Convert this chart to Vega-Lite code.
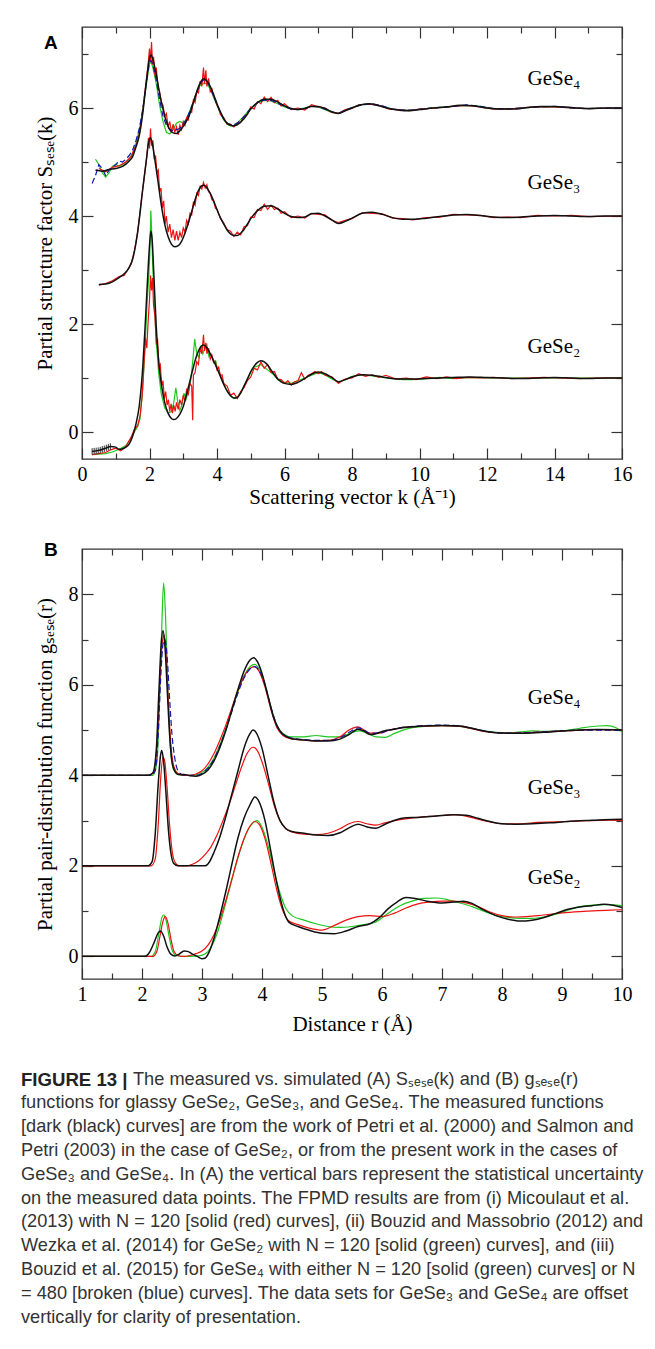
{
"$schema":"https://vega.github.io/schema/vega-lite/v6.json",
"background":"white",
"padding":{"left":21,"top":25,"right":5,"bottom":5},
"bounds":"flush",
"spacing":90,
"title":{"text":"FIGURE 13 |","subtitle":["functions for glassy GeSe₂, GeSe₃, and GeSe₄. The measured functions","[dark (black) curves] are from the work of Petri et al. (2000) and Salmon and","Petri (2003) in the case of GeSe₂, or from the present work in the cases of","GeSe₃ and GeSe₄. In (A) the vertical bars represent the statistical uncertainty","on the measured data points. The FPMD results are from (i) Micoulaut et al.","(2013) with N = 120 [solid (red) curves], (ii) Bouzid and Massobrio (2012) and","Wezka et al. (2014) for GeSe₂ with N = 120 [solid (green) curves], and (iii)","Bouzid et al. (2015) for GeSe₄ with either N = 120 [solid (green) curves] or N","= 480 [broken (blue) curves]. The data sets for GeSe₃ and GeSe₄ are offset","vertically for clarity of presentation."],
"orient":"bottom","anchor":"start","frame":"group","dx":-61,"offset":-18.2,"font":"Liberation Sans","fontSize":18.6,"fontWeight":"bold","color":"#222","subtitleFont":"Liberation Sans","subtitleFontSize":18.2,"subtitleColor":"#333","subtitleLineHeight":23.8,"subtitlePadding":5.2},
"datasets":{
"a4k":[{"k":0.4,"S":4.85},{"k":0.6,"S":4.83},{"k":0.8,"S":4.86},{"k":1,"S":4.88},{"k":1.2,"S":4.92},{"k":1.4,"S":5.02},{"k":1.5,"S":5.1},{"k":1.6,"S":5.28},{"k":1.7,"S":5.5},{"k":1.8,"S":5.9},{"k":1.9,"S":6.45},{"k":2,"S":6.92},{"k":2.05,"S":6.98},{"k":2.1,"S":6.9},{"k":2.2,"S":6.62},{"k":2.3,"S":6.27},{"k":2.4,"S":5.98},{"k":2.5,"S":5.75},{"k":2.6,"S":5.6},{"k":2.7,"S":5.54},{"k":2.8,"S":5.53},{"k":2.9,"S":5.58},{"k":3,"S":5.66},{"k":3.1,"S":5.76},{"k":3.2,"S":5.9},{"k":3.3,"S":6.1},{"k":3.4,"S":6.3},{"k":3.5,"S":6.46},{"k":3.6,"S":6.54},{"k":3.7,"S":6.5},{"k":3.8,"S":6.4},{"k":3.9,"S":6.25},{"k":4,"S":6.08},{"k":4.1,"S":5.93},{"k":4.2,"S":5.8},{"k":4.3,"S":5.72},{"k":4.4,"S":5.68},{"k":4.5,"S":5.67},{"k":4.6,"S":5.69},{"k":4.8,"S":5.8},{"k":5,"S":5.98},{"k":5.2,"S":6.1},{"k":5.4,"S":6.16},{"k":5.6,"S":6.16},{"k":5.8,"S":6.11},{"k":6,"S":6.04},{"k":6.2,"S":5.99},{"k":6.4,"S":5.97},{"k":6.6,"S":5.99},{"k":6.8,"S":6.03},{"k":7,"S":6.03},{"k":7.2,"S":5.99},{"k":7.4,"S":5.93},{"k":7.6,"S":5.9},{"k":7.8,"S":5.95},{"k":8,"S":6},{"k":8.2,"S":6.05},{"k":8.5,"S":6.08},{"k":8.8,"S":6.04},{"k":9.1,"S":5.99},{"k":9.4,"S":5.96},{"k":9.7,"S":5.95},{"k":10,"S":5.97},{"k":10.4,"S":6},{"k":10.8,"S":6.02},{"k":11.2,"S":6.05},{"k":11.6,"S":6.04},{"k":12,"S":6},{"k":12.4,"S":5.98},{"k":12.8,"S":5.98},{"k":13.2,"S":6.01},{"k":13.6,"S":6.03},{"k":14,"S":6.03},{"k":14.5,"S":6.01},{"k":15,"S":5.99},{"k":15.5,"S":6},{"k":16,"S":6}],
"a4r":[{"k":0.5,"S":4.88},{"k":0.7,"S":4.82},{"k":0.9,"S":4.9},{"k":1.1,"S":4.93},{"k":1.3,"S":5},{"k":1.45,"S":5.1},{"k":1.6,"S":5.3},{"k":1.7,"S":5.52},{"k":1.8,"S":5.95},{"k":1.9,"S":6.5},{"k":1.95,"S":6.75},{"k":2,"S":7.1},{"k":2.03,"S":6.85},{"k":2.06,"S":7.22},{"k":2.09,"S":6.8},{"k":2.12,"S":6.95},{"k":2.16,"S":6.6},{"k":2.2,"S":6.75},{"k":2.25,"S":6.4},{"k":2.3,"S":6.3},{"k":2.35,"S":6.1},{"k":2.4,"S":6.05},{"k":2.45,"S":5.85},{"k":2.5,"S":5.9},{"k":2.55,"S":5.65},{"k":2.6,"S":5.75},{"k":2.65,"S":5.55},{"k":2.7,"S":5.7},{"k":2.75,"S":5.55},{"k":2.8,"S":5.65},{"k":2.85,"S":5.5},{"k":2.9,"S":5.68},{"k":2.95,"S":5.6},{"k":3,"S":5.75},{"k":3.05,"S":5.68},{"k":3.1,"S":5.82},{"k":3.15,"S":5.78},{"k":3.2,"S":5.95},{"k":3.25,"S":5.92},{"k":3.3,"S":6.15},{"k":3.35,"S":6.1},{"k":3.4,"S":6.3},{"k":3.45,"S":6.28},{"k":3.5,"S":6.5},{"k":3.55,"S":6.4},{"k":3.6,"S":6.75},{"k":3.63,"S":6.45},{"k":3.67,"S":6.7},{"k":3.7,"S":6.4},{"k":3.75,"S":6.55},{"k":3.8,"S":6.3},{"k":3.85,"S":6.35},{"k":3.9,"S":6.2},{"k":3.95,"S":6.15},{"k":4,"S":6.05},{"k":4.05,"S":6},{"k":4.1,"S":5.88},{"k":4.2,"S":5.82},{"k":4.3,"S":5.7},{"k":4.4,"S":5.7},{"k":4.5,"S":5.65},{"k":4.6,"S":5.72},{"k":4.7,"S":5.73},{"k":4.8,"S":5.85},{"k":4.9,"S":5.88},{"k":5,"S":6.02},{"k":5.1,"S":5.98},{"k":5.2,"S":6.12},{"k":5.3,"S":6.08},{"k":5.4,"S":6.2},{"k":5.5,"S":6.12},{"k":5.6,"S":6.2},{"k":5.7,"S":6.1},{"k":5.8,"S":6.14},{"k":5.9,"S":6.04},{"k":6,"S":6.08},{"k":6.2,"S":5.97},{"k":6.4,"S":6},{"k":6.6,"S":5.96},{"k":6.8,"S":6.06},{"k":7,"S":6.02},{"k":7.2,"S":6},{"k":7.4,"S":5.92},{"k":7.6,"S":5.9},{"k":7.8,"S":5.97},{"k":8,"S":5.99},{"k":8.2,"S":6.06},{"k":8.5,"S":6.07},{"k":8.8,"S":6.05},{"k":9.1,"S":5.98},{"k":9.4,"S":5.97},{"k":9.7,"S":5.95},{"k":10,"S":5.98},{"k":10.5,"S":6},{"k":11,"S":6.03},{"k":11.4,"S":6.05},{"k":11.8,"S":6.02},{"k":12.2,"S":5.98},{"k":12.8,"S":5.99},{"k":13.4,"S":6.02},{"k":14,"S":6.02},{"k":14.5,"S":6},{"k":15,"S":5.99},{"k":16,"S":6}],
"a4g":[{"k":0.4,"S":5.05},{"k":0.5,"S":4.95},{"k":0.6,"S":4.8},{"k":0.7,"S":4.72},{"k":0.8,"S":4.8},{"k":0.9,"S":4.92},{"k":1,"S":4.96},{"k":1.1,"S":4.92},{"k":1.2,"S":4.95},{"k":1.3,"S":5},{"k":1.4,"S":5.05},{"k":1.5,"S":5.15},{"k":1.6,"S":5.35},{"k":1.7,"S":5.6},{"k":1.8,"S":5.95},{"k":1.9,"S":6.4},{"k":2,"S":6.82},{"k":2.05,"S":6.85},{"k":2.1,"S":6.75},{"k":2.2,"S":6.45},{"k":2.3,"S":6.05},{"k":2.4,"S":5.75},{"k":2.5,"S":5.55},{"k":2.6,"S":5.52},{"k":2.7,"S":5.6},{"k":2.8,"S":5.72},{"k":2.9,"S":5.75},{"k":3,"S":5.72},{"k":3.1,"S":5.8},{"k":3.2,"S":5.95},{"k":3.3,"S":6.12},{"k":3.4,"S":6.3},{"k":3.5,"S":6.42},{"k":3.6,"S":6.45},{"k":3.7,"S":6.45},{"k":3.8,"S":6.35},{"k":3.9,"S":6.2},{"k":4,"S":6.05},{"k":4.1,"S":5.9},{"k":4.2,"S":5.78},{"k":4.3,"S":5.7},{"k":4.4,"S":5.67},{"k":4.5,"S":5.68},{"k":4.6,"S":5.72},{"k":4.8,"S":5.85},{"k":5,"S":6},{"k":5.2,"S":6.1},{"k":5.4,"S":6.14},{"k":5.6,"S":6.13},{"k":5.8,"S":6.08},{"k":6,"S":6.02},{"k":6.2,"S":5.98},{"k":6.4,"S":5.98},{"k":6.6,"S":6},{"k":6.8,"S":6.04},{"k":7,"S":6.02},{"k":7.2,"S":5.97},{"k":7.4,"S":5.92},{"k":7.6,"S":5.9},{"k":7.8,"S":5.96},{"k":8,"S":6.01},{"k":8.3,"S":6.06},{"k":8.6,"S":6.07},{"k":8.9,"S":6.03},{"k":9.2,"S":5.98},{"k":9.5,"S":5.96},{"k":9.8,"S":5.96},{"k":10.2,"S":5.99},{"k":10.6,"S":6.01},{"k":11,"S":6.03},{"k":11.4,"S":6.05},{"k":11.8,"S":6.03},{"k":12.2,"S":5.99},{"k":12.6,"S":5.98},{"k":13,"S":6},{"k":13.5,"S":6.02},{"k":14,"S":6.02},{"k":14.5,"S":6},{"k":15,"S":5.99},{"k":16,"S":6}],
"a4b":[{"k":0.3,"S":4.6},{"k":0.4,"S":4.75},{"k":0.5,"S":4.95},{"k":0.6,"S":4.88},{"k":0.7,"S":4.75},{"k":0.8,"S":4.85},{"k":0.9,"S":4.9},{"k":1,"S":4.95},{"k":1.1,"S":5.02},{"k":1.2,"S":5},{"k":1.3,"S":5.05},{"k":1.4,"S":5.12},{"k":1.5,"S":5.22},{"k":1.6,"S":5.4},{"k":1.7,"S":5.62},{"k":1.8,"S":5.98},{"k":1.9,"S":6.45},{"k":2,"S":6.85},{"k":2.05,"S":6.88},{"k":2.1,"S":6.8},{"k":2.2,"S":6.52},{"k":2.3,"S":6.15},{"k":2.4,"S":5.85},{"k":2.5,"S":5.68},{"k":2.6,"S":5.6},{"k":2.7,"S":5.58},{"k":2.8,"S":5.6},{"k":2.9,"S":5.62},{"k":3,"S":5.7},{"k":3.1,"S":5.8},{"k":3.2,"S":5.95},{"k":3.3,"S":6.12},{"k":3.4,"S":6.3},{"k":3.5,"S":6.45},{"k":3.6,"S":6.52},{"k":3.7,"S":6.5},{"k":3.8,"S":6.38},{"k":3.9,"S":6.22},{"k":4,"S":6.06},{"k":4.1,"S":5.92},{"k":4.2,"S":5.8},{"k":4.3,"S":5.72},{"k":4.4,"S":5.69},{"k":4.5,"S":5.69},{"k":4.6,"S":5.72},{"k":4.8,"S":5.84},{"k":5,"S":5.99},{"k":5.2,"S":6.1},{"k":5.4,"S":6.15},{"k":5.6,"S":6.14},{"k":5.8,"S":6.09},{"k":6,"S":6.03},{"k":6.2,"S":5.98},{"k":6.4,"S":5.97},{"k":6.6,"S":5.99},{"k":6.8,"S":6.03},{"k":7,"S":6.02},{"k":7.2,"S":5.98},{"k":7.4,"S":5.93},{"k":7.6,"S":5.9},{"k":7.8,"S":5.96},{"k":8,"S":6.01},{"k":8.3,"S":6.06},{"k":8.6,"S":6.08},{"k":8.9,"S":6.04},{"k":9.2,"S":5.98},{"k":9.5,"S":5.96},{"k":9.8,"S":5.96},{"k":10.2,"S":5.99},{"k":10.6,"S":6.01},{"k":11,"S":6.03},{"k":11.4,"S":6.06},{"k":11.8,"S":6.03},{"k":12.2,"S":5.99},{"k":12.6,"S":5.98},{"k":13,"S":6},{"k":13.5,"S":6.02},{"k":14,"S":6.03},{"k":14.5,"S":6},{"k":15,"S":5.99},{"k":16,"S":6}],
"a3k":[{"k":0.5,"S":2.73},{"k":0.7,"S":2.74},{"k":0.9,"S":2.78},{"k":1.1,"S":2.86},{"k":1.25,"S":2.93},{"k":1.4,"S":3.05},{"k":1.5,"S":3.2},{"k":1.6,"S":3.5},{"k":1.7,"S":3.95},{"k":1.8,"S":4.5},{"k":1.9,"S":5},{"k":1.97,"S":5.35},{"k":2.02,"S":5.45},{"k":2.08,"S":5.35},{"k":2.15,"S":5.08},{"k":2.25,"S":4.65},{"k":2.35,"S":4.2},{"k":2.45,"S":3.85},{"k":2.55,"S":3.62},{"k":2.65,"S":3.48},{"k":2.75,"S":3.43},{"k":2.85,"S":3.45},{"k":2.95,"S":3.53},{"k":3.05,"S":3.68},{"k":3.15,"S":3.87},{"k":3.25,"S":4.08},{"k":3.35,"S":4.3},{"k":3.45,"S":4.47},{"k":3.55,"S":4.56},{"k":3.62,"S":4.57},{"k":3.7,"S":4.52},{"k":3.8,"S":4.42},{"k":3.9,"S":4.28},{"k":4,"S":4.12},{"k":4.1,"S":3.97},{"k":4.2,"S":3.85},{"k":4.3,"S":3.74},{"k":4.4,"S":3.67},{"k":4.5,"S":3.64},{"k":4.6,"S":3.64},{"k":4.7,"S":3.68},{"k":4.8,"S":3.75},{"k":4.9,"S":3.85},{"k":5,"S":3.95},{"k":5.2,"S":4.1},{"k":5.4,"S":4.18},{"k":5.6,"S":4.19},{"k":5.8,"S":4.13},{"k":6,"S":4.05},{"k":6.2,"S":3.99},{"k":6.4,"S":3.97},{"k":6.6,"S":3.98},{"k":6.8,"S":4.04},{"k":7,"S":4.05},{"k":7.2,"S":4},{"k":7.4,"S":3.93},{"k":7.6,"S":3.86},{"k":7.8,"S":3.9},{"k":8,"S":3.96},{"k":8.3,"S":4.05},{"k":8.6,"S":4.07},{"k":8.9,"S":4.03},{"k":9.2,"S":3.97},{"k":9.5,"S":3.94},{"k":9.8,"S":3.94},{"k":10.2,"S":3.96},{"k":10.6,"S":3.99},{"k":11,"S":4.02},{"k":11.4,"S":4.03},{"k":11.8,"S":4.01},{"k":12.2,"S":3.98},{"k":12.6,"S":3.97},{"k":13,"S":3.98},{"k":13.5,"S":4},{"k":14,"S":4.01},{"k":14.5,"S":4},{"k":15,"S":3.99},{"k":15.5,"S":4},{"k":16,"S":4}],
"a3r":[{"k":0.5,"S":2.72},{"k":0.7,"S":2.75},{"k":0.9,"S":2.8},{"k":1.1,"S":2.88},{"k":1.25,"S":2.9},{"k":1.35,"S":3},{"k":1.45,"S":3.1},{"k":1.55,"S":3.35},{"k":1.65,"S":3.7},{"k":1.75,"S":4.25},{"k":1.85,"S":4.75},{"k":1.92,"S":5.1},{"k":1.97,"S":5.45},{"k":2,"S":5.25},{"k":2.03,"S":5.62},{"k":2.06,"S":5.3},{"k":2.1,"S":5.4},{"k":2.14,"S":5.05},{"k":2.18,"S":5.12},{"k":2.22,"S":4.8},{"k":2.26,"S":4.85},{"k":2.3,"S":4.45},{"k":2.34,"S":4.52},{"k":2.38,"S":4.15},{"k":2.42,"S":4.28},{"k":2.46,"S":3.85},{"k":2.5,"S":4},{"k":2.55,"S":3.7},{"k":2.6,"S":3.85},{"k":2.65,"S":3.6},{"k":2.7,"S":3.75},{"k":2.75,"S":3.55},{"k":2.8,"S":3.72},{"k":2.85,"S":3.55},{"k":2.9,"S":3.7},{"k":2.95,"S":3.6},{"k":3,"S":3.78},{"k":3.05,"S":3.7},{"k":3.1,"S":3.92},{"k":3.15,"S":3.85},{"k":3.2,"S":4.05},{"k":3.25,"S":4.02},{"k":3.3,"S":4.25},{"k":3.35,"S":4.2},{"k":3.4,"S":4.42},{"k":3.45,"S":4.38},{"k":3.5,"S":4.55},{"k":3.55,"S":4.5},{"k":3.6,"S":4.62},{"k":3.65,"S":4.52},{"k":3.7,"S":4.58},{"k":3.75,"S":4.45},{"k":3.8,"S":4.42},{"k":3.85,"S":4.3},{"k":3.9,"S":4.28},{"k":3.95,"S":4.15},{"k":4,"S":4.12},{"k":4.1,"S":3.96},{"k":4.2,"S":3.87},{"k":4.3,"S":3.75},{"k":4.4,"S":3.72},{"k":4.5,"S":3.62},{"k":4.6,"S":3.7},{"k":4.7,"S":3.65},{"k":4.8,"S":3.8},{"k":4.9,"S":3.82},{"k":5,"S":3.98},{"k":5.1,"S":3.97},{"k":5.2,"S":4.12},{"k":5.3,"S":4.1},{"k":5.4,"S":4.22},{"k":5.5,"S":4.12},{"k":5.6,"S":4.2},{"k":5.7,"S":4.12},{"k":5.8,"S":4.15},{"k":5.9,"S":4.05},{"k":6,"S":4.08},{"k":6.2,"S":3.97},{"k":6.4,"S":4},{"k":6.6,"S":3.96},{"k":6.8,"S":4.05},{"k":7,"S":4.03},{"k":7.2,"S":4.02},{"k":7.4,"S":3.92},{"k":7.6,"S":3.88},{"k":7.8,"S":3.92},{"k":8,"S":3.95},{"k":8.3,"S":4.06},{"k":8.6,"S":4.05},{"k":8.9,"S":4.04},{"k":9.2,"S":3.96},{"k":9.5,"S":3.95},{"k":9.8,"S":3.93},{"k":10.2,"S":3.97},{"k":10.6,"S":3.98},{"k":11,"S":4.03},{"k":11.4,"S":4.02},{"k":11.8,"S":4.01},{"k":12.2,"S":3.97},{"k":12.6,"S":3.98},{"k":13,"S":3.97},{"k":13.5,"S":4.01},{"k":14,"S":4},{"k":14.5,"S":4.01},{"k":15,"S":3.99},{"k":16,"S":4}],
"a2k":[{"k":0.3,"S":-0.36},{"k":0.5,"S":-0.34},{"k":0.7,"S":-0.3},{"k":0.85,"S":-0.27},{"k":1,"S":-0.28},{"k":1.1,"S":-0.32},{"k":1.2,"S":-0.31},{"k":1.3,"S":-0.28},{"k":1.4,"S":-0.22},{"k":1.5,"S":-0.08},{"k":1.6,"S":0.15},{"k":1.7,"S":0.5},{"k":1.8,"S":1.2},{"k":1.87,"S":1.95},{"k":1.94,"S":2.8},{"k":2,"S":3.45},{"k":2.04,"S":3.72},{"k":2.08,"S":3.55},{"k":2.13,"S":2.9},{"k":2.2,"S":1.95},{"k":2.28,"S":1.25},{"k":2.36,"S":0.85},{"k":2.45,"S":0.55},{"k":2.55,"S":0.35},{"k":2.65,"S":0.25},{"k":2.72,"S":0.23},{"k":2.8,"S":0.25},{"k":2.9,"S":0.33},{"k":3,"S":0.47},{"k":3.1,"S":0.7},{"k":3.2,"S":0.95},{"k":3.3,"S":1.2},{"k":3.4,"S":1.42},{"k":3.5,"S":1.56},{"k":3.6,"S":1.61},{"k":3.7,"S":1.56},{"k":3.8,"S":1.45},{"k":3.9,"S":1.32},{"k":4,"S":1.18},{"k":4.1,"S":1.03},{"k":4.2,"S":0.88},{"k":4.3,"S":0.76},{"k":4.4,"S":0.67},{"k":4.5,"S":0.63},{"k":4.6,"S":0.64},{"k":4.7,"S":0.72},{"k":4.8,"S":0.85},{"k":4.9,"S":0.98},{"k":5,"S":1.12},{"k":5.1,"S":1.22},{"k":5.2,"S":1.29},{"k":5.3,"S":1.32},{"k":5.4,"S":1.3},{"k":5.5,"S":1.24},{"k":5.6,"S":1.15},{"k":5.7,"S":1.06},{"k":5.8,"S":0.98},{"k":5.9,"S":0.93},{"k":6,"S":0.9},{"k":6.2,"S":0.88},{"k":6.4,"S":0.92},{"k":6.6,"S":0.99},{"k":6.8,"S":1.07},{"k":7,"S":1.11},{"k":7.2,"S":1.08},{"k":7.4,"S":1.01},{"k":7.6,"S":0.93},{"k":7.8,"S":0.97},{"k":8,"S":1.02},{"k":8.3,"S":1.06},{"k":8.6,"S":1.05},{"k":8.9,"S":1.02},{"k":9.2,"S":0.99},{"k":9.5,"S":0.98},{"k":9.8,"S":0.98},{"k":10.2,"S":0.99},{"k":10.6,"S":1},{"k":11,"S":1.01},{"k":11.5,"S":1.02},{"k":12,"S":1.01},{"k":12.5,"S":1},{"k":13,"S":0.99},{"k":13.5,"S":1},{"k":14,"S":1.01},{"k":14.5,"S":1},{"k":15,"S":0.99},{"k":15.5,"S":1},{"k":16,"S":1}],
"a2e":[{"k":0.3,"lo":-0.42,"hi":-0.3},{"k":0.36,"lo":-0.415,"hi":-0.295},{"k":0.42,"lo":-0.41,"hi":-0.29},{"k":0.48,"lo":-0.405,"hi":-0.285},{"k":0.54,"lo":-0.395,"hi":-0.275},{"k":0.6,"lo":-0.38,"hi":-0.26},{"k":0.66,"lo":-0.37,"hi":-0.25},{"k":0.72,"lo":-0.355,"hi":-0.235},{"k":0.78,"lo":-0.34,"hi":-0.22},{"k":0.84,"lo":-0.33,"hi":-0.21}],
"a2r":[{"k":0.3,"S":-0.42},{"k":0.5,"S":-0.4},{"k":0.7,"S":-0.38},{"k":0.85,"S":-0.33},{"k":1,"S":-0.3},{"k":1.15,"S":-0.35},{"k":1.3,"S":-0.27},{"k":1.45,"S":-0.1},{"k":1.55,"S":0.05},{"k":1.65,"S":0.12},{"k":1.72,"S":0.3},{"k":1.78,"S":0.65},{"k":1.84,"S":1.3},{"k":1.88,"S":1.75},{"k":1.92,"S":1.55},{"k":1.96,"S":2.05},{"k":2,"S":2.45},{"k":2.03,"S":2.9},{"k":2.06,"S":2.62},{"k":2.09,"S":2.85},{"k":2.12,"S":2.35},{"k":2.16,"S":2.15},{"k":2.2,"S":1.65},{"k":2.24,"S":1.7},{"k":2.28,"S":1.2},{"k":2.32,"S":1.25},{"k":2.36,"S":0.85},{"k":2.4,"S":0.95},{"k":2.44,"S":0.62},{"k":2.48,"S":0.75},{"k":2.52,"S":0.5},{"k":2.56,"S":0.6},{"k":2.6,"S":0.38},{"k":2.64,"S":0.52},{"k":2.68,"S":0.35},{"k":2.72,"S":0.5},{"k":2.76,"S":0.38},{"k":2.8,"S":0.55},{"k":2.85,"S":0.42},{"k":2.9,"S":0.6},{"k":2.95,"S":0.5},{"k":3,"S":0.68},{"k":3.05,"S":0.58},{"k":3.1,"S":0.78},{"k":3.15,"S":0.7},{"k":3.2,"S":0.9},{"k":3.25,"S":0.85},{"k":3.28,"S":0.22},{"k":3.3,"S":1.05},{"k":3.35,"S":1.1},{"k":3.4,"S":1.3},{"k":3.45,"S":1.25},{"k":3.5,"S":1.55},{"k":3.55,"S":1.45},{"k":3.6,"S":1.8},{"k":3.63,"S":1.5},{"k":3.67,"S":1.65},{"k":3.7,"S":1.45},{"k":3.75,"S":1.55},{"k":3.8,"S":1.35},{"k":3.85,"S":1.42},{"k":3.9,"S":1.28},{"k":3.95,"S":1.3},{"k":4,"S":1.15},{"k":4.05,"S":1.2},{"k":4.1,"S":1.05},{"k":4.15,"S":1.06},{"k":4.2,"S":0.9},{"k":4.3,"S":0.85},{"k":4.4,"S":0.68},{"k":4.5,"S":0.72},{"k":4.6,"S":0.62},{"k":4.7,"S":0.75},{"k":4.8,"S":0.82},{"k":4.9,"S":0.95},{"k":5,"S":1.02},{"k":5.1,"S":1.18},{"k":5.2,"S":1.15},{"k":5.3,"S":1.3},{"k":5.4,"S":1.18},{"k":5.5,"S":1.25},{"k":5.6,"S":1.1},{"k":5.7,"S":1.12},{"k":5.8,"S":0.98},{"k":5.9,"S":0.97},{"k":6,"S":0.9},{"k":6.1,"S":0.95},{"k":6.2,"S":0.87},{"k":6.3,"S":0.93},{"k":6.4,"S":0.95},{"k":6.5,"S":1.1},{"k":6.6,"S":0.98},{"k":6.7,"S":1.05},{"k":6.8,"S":1.08},{"k":6.9,"S":1.12},{"k":7,"S":1.08},{"k":7.1,"S":1.12},{"k":7.2,"S":1.05},{"k":7.4,"S":1.02},{"k":7.6,"S":0.9},{"k":7.7,"S":0.95},{"k":7.8,"S":0.98},{"k":8,"S":1},{"k":8.2,"S":1.08},{"k":8.4,"S":1.03},{"k":8.6,"S":1.06},{"k":8.8,"S":1.01},{"k":9,"S":1.05},{"k":9.3,"S":0.98},{"k":9.6,"S":1},{"k":9.9,"S":0.97},{"k":10.2,"S":1.02},{"k":10.5,"S":0.99},{"k":10.8,"S":1.02},{"k":11.1,"S":0.99},{"k":11.4,"S":1.01},{"k":11.8,"S":1},{"k":12.2,"S":1.01},{"k":12.7,"S":0.99},{"k":13.2,"S":1},{"k":13.7,"S":1.01},{"k":14.2,"S":1},{"k":14.7,"S":0.99},{"k":15.2,"S":1},{"k":16,"S":1}],
"a2g":[{"k":0.3,"S":-0.42},{"k":0.5,"S":-0.41},{"k":0.7,"S":-0.4},{"k":0.9,"S":-0.37},{"k":1.1,"S":-0.32},{"k":1.3,"S":-0.25},{"k":1.45,"S":-0.12},{"k":1.55,"S":0},{"k":1.65,"S":0.1},{"k":1.72,"S":0.25},{"k":1.8,"S":0.8},{"k":1.87,"S":1.6},{"k":1.93,"S":2.4},{"k":1.98,"S":2.9},{"k":2.01,"S":3.3},{"k":2.04,"S":4.1},{"k":2.07,"S":3.6},{"k":2.1,"S":3},{"k":2.15,"S":2.3},{"k":2.2,"S":1.7},{"k":2.27,"S":1.1},{"k":2.35,"S":0.7},{"k":2.45,"S":0.45},{"k":2.55,"S":0.35},{"k":2.65,"S":0.38},{"k":2.72,"S":0.55},{"k":2.78,"S":0.82},{"k":2.84,"S":0.55},{"k":2.9,"S":0.4},{"k":2.96,"S":0.5},{"k":3.02,"S":0.72},{"k":3.08,"S":0.6},{"k":3.15,"S":0.75},{"k":3.22,"S":0.95},{"k":3.28,"S":1.3},{"k":3.34,"S":1.72},{"k":3.4,"S":1.45},{"k":3.46,"S":1.38},{"k":3.52,"S":1.6},{"k":3.58,"S":1.45},{"k":3.64,"S":1.55},{"k":3.7,"S":1.62},{"k":3.76,"S":1.4},{"k":3.82,"S":1.45},{"k":3.9,"S":1.3},{"k":3.96,"S":1.32},{"k":4.02,"S":1.15},{"k":4.1,"S":1.05},{"k":4.2,"S":0.9},{"k":4.3,"S":0.75},{"k":4.4,"S":0.68},{"k":4.5,"S":0.62},{"k":4.6,"S":0.65},{"k":4.7,"S":0.72},{"k":4.8,"S":0.85},{"k":4.9,"S":0.98},{"k":5,"S":1.1},{"k":5.1,"S":1.2},{"k":5.2,"S":1.22},{"k":5.3,"S":1.25},{"k":5.4,"S":1.2},{"k":5.5,"S":1.15},{"k":5.6,"S":1.1},{"k":5.7,"S":1.05},{"k":5.8,"S":0.97},{"k":5.9,"S":0.95},{"k":6,"S":0.92},{"k":6.2,"S":0.9},{"k":6.4,"S":0.95},{"k":6.6,"S":1},{"k":6.8,"S":1.05},{"k":7,"S":1.1},{"k":7.2,"S":1.06},{"k":7.4,"S":0.98},{"k":7.6,"S":0.92},{"k":7.8,"S":0.97},{"k":8,"S":1.03},{"k":8.3,"S":1.06},{"k":8.6,"S":1.04},{"k":8.9,"S":1.01},{"k":9.2,"S":0.99},{"k":9.5,"S":0.97},{"k":9.8,"S":0.97},{"k":10.2,"S":0.99},{"k":10.6,"S":1.01},{"k":11,"S":0.99},{"k":11.5,"S":1.01},{"k":12,"S":1},{"k":13,"S":1},{"k":14,"S":1},{"k":15,"S":1},{"k":16,"S":1}],
"alab":[{"k":13.2,"S":6.53,"t":"GeSe₄"},{"k":13.2,"S":4.61,"t":"GeSe₃"},{"k":13.2,"S":1.57,"t":"GeSe₂"}],
"b4k":[{"r":1,"g":4},{"r":2.1,"g":4},{"r":2.18,"g":4.05},{"r":2.24,"g":4.6},{"r":2.28,"g":5.8},{"r":2.32,"g":6.9},{"r":2.35,"g":7.2},{"r":2.38,"g":6.9},{"r":2.42,"g":5.9},{"r":2.46,"g":4.9},{"r":2.5,"g":4.3},{"r":2.55,"g":4.08},{"r":2.6,"g":4.02},{"r":2.7,"g":4.02},{"r":2.8,"g":3.99},{"r":2.9,"g":3.98},{"r":3,"g":4.02},{"r":3.1,"g":4.12},{"r":3.2,"g":4.32},{"r":3.3,"g":4.62},{"r":3.4,"g":5},{"r":3.5,"g":5.45},{"r":3.6,"g":5.9},{"r":3.7,"g":6.3},{"r":3.8,"g":6.55},{"r":3.86,"g":6.6},{"r":3.92,"g":6.52},{"r":4,"g":6.25},{"r":4.1,"g":5.75},{"r":4.2,"g":5.25},{"r":4.3,"g":4.98},{"r":4.4,"g":4.86},{"r":4.5,"g":4.81},{"r":4.7,"g":4.78},{"r":4.9,"g":4.76},{"r":5.1,"g":4.76},{"r":5.3,"g":4.8},{"r":5.45,"g":4.9},{"r":5.6,"g":5.02},{"r":5.7,"g":4.98},{"r":5.8,"g":4.9},{"r":5.9,"g":4.92},{"r":6,"g":4.97},{"r":6.2,"g":5.02},{"r":6.4,"g":5.06},{"r":6.7,"g":5.09},{"r":7,"g":5.1},{"r":7.3,"g":5.09},{"r":7.5,"g":5.04},{"r":7.7,"g":4.98},{"r":7.9,"g":4.94},{"r":8.1,"g":4.93},{"r":8.4,"g":4.93},{"r":8.7,"g":4.95},{"r":9,"g":4.98},{"r":9.3,"g":5},{"r":9.6,"g":5.01},{"r":10,"g":5}],
"b4r":[{"r":1,"g":4},{"r":2.12,"g":4},{"r":2.2,"g":4.08},{"r":2.26,"g":4.9},{"r":2.3,"g":6.1},{"r":2.34,"g":6.95},{"r":2.37,"g":7.1},{"r":2.4,"g":6.7},{"r":2.44,"g":5.6},{"r":2.48,"g":4.7},{"r":2.53,"g":4.2},{"r":2.6,"g":4.04},{"r":2.7,"g":4},{"r":2.8,"g":4},{"r":2.9,"g":4.03},{"r":3,"g":4.1},{"r":3.1,"g":4.25},{"r":3.2,"g":4.48},{"r":3.3,"g":4.78},{"r":3.4,"g":5.12},{"r":3.5,"g":5.5},{"r":3.6,"g":5.88},{"r":3.7,"g":6.18},{"r":3.8,"g":6.36},{"r":3.87,"g":6.4},{"r":3.95,"g":6.3},{"r":4.05,"g":5.95},{"r":4.15,"g":5.45},{"r":4.25,"g":5.05},{"r":4.35,"g":4.88},{"r":4.5,"g":4.8},{"r":4.7,"g":4.78},{"r":4.9,"g":4.76},{"r":5.1,"g":4.77},{"r":5.3,"g":4.85},{"r":5.45,"g":5},{"r":5.6,"g":5.07},{"r":5.7,"g":5},{"r":5.8,"g":4.93},{"r":5.95,"g":4.93},{"r":6.1,"g":4.99},{"r":6.3,"g":5.05},{"r":6.6,"g":5.08},{"r":7,"g":5.1},{"r":7.3,"g":5.08},{"r":7.5,"g":5.03},{"r":7.7,"g":4.97},{"r":7.9,"g":4.94},{"r":8.1,"g":4.93},{"r":8.4,"g":4.94},{"r":8.7,"g":4.96},{"r":9,"g":4.98},{"r":9.3,"g":5},{"r":9.6,"g":5.01},{"r":10,"g":5}],
"b4g":[{"r":1,"g":4},{"r":2.18,"g":4},{"r":2.25,"g":4.3},{"r":2.29,"g":5.6},{"r":2.33,"g":7.3},{"r":2.36,"g":8.25},{"r":2.39,"g":7.6},{"r":2.43,"g":6},{"r":2.47,"g":4.7},{"r":2.52,"g":4.15},{"r":2.6,"g":4.02},{"r":2.7,"g":4},{"r":2.8,"g":4},{"r":2.9,"g":4.01},{"r":3,"g":4.06},{"r":3.1,"g":4.18},{"r":3.2,"g":4.38},{"r":3.3,"g":4.68},{"r":3.4,"g":5.05},{"r":3.5,"g":5.45},{"r":3.6,"g":5.85},{"r":3.7,"g":6.2},{"r":3.8,"g":6.4},{"r":3.88,"g":6.45},{"r":3.95,"g":6.35},{"r":4.05,"g":6},{"r":4.15,"g":5.5},{"r":4.25,"g":5.1},{"r":4.35,"g":4.92},{"r":4.5,"g":4.85},{"r":4.7,"g":4.85},{"r":4.9,"g":4.88},{"r":5.1,"g":4.85},{"r":5.3,"g":4.85},{"r":5.5,"g":4.95},{"r":5.62,"g":4.98},{"r":5.75,"g":4.93},{"r":5.9,"g":4.85},{"r":6.05,"g":4.84},{"r":6.2,"g":4.92},{"r":6.4,"g":5.02},{"r":6.7,"g":5.08},{"r":7,"g":5.1},{"r":7.3,"g":5.08},{"r":7.5,"g":5.03},{"r":7.7,"g":4.98},{"r":7.9,"g":4.95},{"r":8.1,"g":4.94},{"r":8.3,"g":4.96},{"r":8.5,"g":4.98},{"r":8.7,"g":4.97},{"r":9,"g":4.98},{"r":9.3,"g":5.04},{"r":9.6,"g":5.09},{"r":9.75,"g":5.1},{"r":9.9,"g":5.05},{"r":10,"g":4.96}],
"b4b":[{"r":1,"g":4},{"r":2.15,"g":4},{"r":2.22,"g":4.1},{"r":2.27,"g":4.9},{"r":2.31,"g":6.1},{"r":2.35,"g":6.9},{"r":2.38,"g":7},{"r":2.42,"g":6.6},{"r":2.46,"g":5.7},{"r":2.5,"g":4.9},{"r":2.55,"g":4.35},{"r":2.6,"g":4.1},{"r":2.7,"g":4},{"r":2.8,"g":4},{"r":2.9,"g":4},{"r":3,"g":4.04},{"r":3.1,"g":4.16},{"r":3.2,"g":4.36},{"r":3.3,"g":4.66},{"r":3.4,"g":5.02},{"r":3.5,"g":5.42},{"r":3.6,"g":5.82},{"r":3.7,"g":6.15},{"r":3.8,"g":6.35},{"r":3.88,"g":6.4},{"r":3.95,"g":6.32},{"r":4.05,"g":6},{"r":4.15,"g":5.5},{"r":4.25,"g":5.1},{"r":4.35,"g":4.9},{"r":4.5,"g":4.82},{"r":4.7,"g":4.79},{"r":4.9,"g":4.77},{"r":5.1,"g":4.77},{"r":5.3,"g":4.83},{"r":5.45,"g":4.95},{"r":5.6,"g":5.05},{"r":5.7,"g":5},{"r":5.8,"g":4.93},{"r":5.95,"g":4.93},{"r":6.1,"g":4.99},{"r":6.3,"g":5.05},{"r":6.6,"g":5.09},{"r":7,"g":5.11},{"r":7.3,"g":5.09},{"r":7.5,"g":5.04},{"r":7.7,"g":4.98},{"r":7.9,"g":4.94},{"r":8.1,"g":4.93},{"r":8.4,"g":4.94},{"r":8.7,"g":4.96},{"r":9,"g":4.98},{"r":9.3,"g":5},{"r":9.6,"g":5},{"r":10,"g":5}],
"b3k":[{"r":1,"g":2},{"r":2.1,"g":2},{"r":2.17,"g":2.1},{"r":2.22,"g":2.7},{"r":2.27,"g":3.8},{"r":2.31,"g":4.45},{"r":2.33,"g":4.55},{"r":2.36,"g":4.3},{"r":2.4,"g":3.6},{"r":2.44,"g":2.8},{"r":2.48,"g":2.3},{"r":2.53,"g":2.05},{"r":2.6,"g":2},{"r":3.05,"g":2},{"r":3.12,"g":2.08},{"r":3.2,"g":2.3},{"r":3.3,"g":2.65},{"r":3.4,"g":3.1},{"r":3.5,"g":3.6},{"r":3.6,"g":4.1},{"r":3.7,"g":4.6},{"r":3.8,"g":4.92},{"r":3.85,"g":5},{"r":3.9,"g":4.95},{"r":4,"g":4.6},{"r":4.1,"g":4},{"r":4.2,"g":3.4},{"r":4.3,"g":3},{"r":4.4,"g":2.82},{"r":4.5,"g":2.76},{"r":4.7,"g":2.72},{"r":4.9,"g":2.68},{"r":5.1,"g":2.67},{"r":5.3,"g":2.73},{"r":5.45,"g":2.84},{"r":5.6,"g":2.92},{"r":5.75,"g":2.86},{"r":5.9,"g":2.83},{"r":6.05,"g":2.92},{"r":6.2,"g":3},{"r":6.4,"g":3.06},{"r":6.6,"g":3.07},{"r":6.9,"g":3.1},{"r":7.2,"g":3.13},{"r":7.4,"g":3.12},{"r":7.6,"g":3.05},{"r":7.8,"g":2.98},{"r":8,"g":2.93},{"r":8.2,"g":2.92},{"r":8.5,"g":2.93},{"r":8.8,"g":2.95},{"r":9.1,"g":2.98},{"r":9.4,"g":3},{"r":9.7,"g":3.02},{"r":10,"g":3.03}],
"b3r":[{"r":1,"g":2},{"r":2.15,"g":2},{"r":2.22,"g":2.15},{"r":2.27,"g":2.9},{"r":2.31,"g":3.9},{"r":2.35,"g":4.4},{"r":2.38,"g":4.3},{"r":2.42,"g":3.7},{"r":2.46,"g":2.9},{"r":2.5,"g":2.35},{"r":2.55,"g":2.08},{"r":2.62,"g":2},{"r":2.75,"g":2},{"r":2.85,"g":2.04},{"r":2.95,"g":2.12},{"r":3.05,"g":2.25},{"r":3.15,"g":2.42},{"r":3.25,"g":2.68},{"r":3.35,"g":3},{"r":3.45,"g":3.35},{"r":3.55,"g":3.75},{"r":3.65,"g":4.15},{"r":3.75,"g":4.48},{"r":3.85,"g":4.62},{"r":3.92,"g":4.55},{"r":4,"g":4.3},{"r":4.1,"g":3.85},{"r":4.2,"g":3.35},{"r":4.3,"g":3},{"r":4.4,"g":2.82},{"r":4.5,"g":2.75},{"r":4.7,"g":2.7},{"r":4.9,"g":2.69},{"r":5.1,"g":2.72},{"r":5.3,"g":2.82},{"r":5.45,"g":2.93},{"r":5.6,"g":2.98},{"r":5.75,"g":2.93},{"r":5.9,"g":2.9},{"r":6.05,"g":2.95},{"r":6.3,"g":3.02},{"r":6.6,"g":3.07},{"r":6.9,"g":3.1},{"r":7.2,"g":3.13},{"r":7.4,"g":3.1},{"r":7.6,"g":3.03},{"r":7.8,"g":2.97},{"r":8,"g":2.93},{"r":8.3,"g":2.93},{"r":8.6,"g":2.96},{"r":8.9,"g":2.97},{"r":9.2,"g":2.99},{"r":9.5,"g":3},{"r":9.8,"g":3.01},{"r":10,"g":3}],
"b2k":[{"r":1,"g":0},{"r":2.05,"g":0},{"r":2.12,"g":0.08},{"r":2.2,"g":0.3},{"r":2.27,"g":0.52},{"r":2.31,"g":0.56},{"r":2.36,"g":0.45},{"r":2.42,"g":0.2},{"r":2.48,"g":0.05},{"r":2.55,"g":0.01},{"r":2.62,"g":0.05},{"r":2.7,"g":0.12},{"r":2.76,"g":0.11},{"r":2.84,"g":0.05},{"r":2.92,"g":0},{"r":3,"g":-0.05},{"r":3.05,"g":-0.04},{"r":3.12,"g":0.1},{"r":3.2,"g":0.4},{"r":3.3,"g":0.9},{"r":3.4,"g":1.45},{"r":3.5,"g":2.05},{"r":3.6,"g":2.62},{"r":3.7,"g":3.05},{"r":3.8,"g":3.35},{"r":3.88,"g":3.52},{"r":3.95,"g":3.42},{"r":4.05,"g":3},{"r":4.15,"g":2.3},{"r":4.25,"g":1.6},{"r":4.35,"g":1.05},{"r":4.45,"g":0.75},{"r":4.6,"g":0.66},{"r":4.8,"g":0.57},{"r":5,"g":0.51},{"r":5.2,"g":0.5},{"r":5.4,"g":0.56},{"r":5.6,"g":0.66},{"r":5.8,"g":0.72},{"r":5.95,"g":0.85},{"r":6.1,"g":1.05},{"r":6.25,"g":1.2},{"r":6.4,"g":1.3},{"r":6.55,"g":1.28},{"r":6.75,"g":1.22},{"r":7,"g":1.18},{"r":7.2,"g":1.2},{"r":7.35,"g":1.22},{"r":7.5,"g":1.17},{"r":7.7,"g":1.02},{"r":7.9,"g":0.9},{"r":8.1,"g":0.82},{"r":8.3,"g":0.78},{"r":8.5,"g":0.8},{"r":8.7,"g":0.86},{"r":8.9,"g":0.95},{"r":9.1,"g":1.04},{"r":9.3,"g":1.09},{"r":9.5,"g":1.12},{"r":9.7,"g":1.15},{"r":9.85,"g":1.13},{"r":10,"g":1.08}],
"b2r":[{"r":1,"g":0},{"r":2.18,"g":0},{"r":2.25,"g":0.12},{"r":2.3,"g":0.45},{"r":2.35,"g":0.78},{"r":2.39,"g":0.88},{"r":2.43,"g":0.75},{"r":2.48,"g":0.4},{"r":2.53,"g":0.12},{"r":2.6,"g":0.02},{"r":2.7,"g":0},{"r":2.8,"g":0.02},{"r":2.9,"g":0.06},{"r":3,"g":0.12},{"r":3.1,"g":0.25},{"r":3.2,"g":0.48},{"r":3.3,"g":0.82},{"r":3.4,"g":1.25},{"r":3.5,"g":1.72},{"r":3.6,"g":2.2},{"r":3.7,"g":2.6},{"r":3.8,"g":2.88},{"r":3.88,"g":2.98},{"r":3.95,"g":2.92},{"r":4.05,"g":2.6},{"r":4.15,"g":2.05},{"r":4.25,"g":1.45},{"r":4.35,"g":1},{"r":4.45,"g":0.78},{"r":4.6,"g":0.7},{"r":4.8,"g":0.62},{"r":5,"g":0.58},{"r":5.2,"g":0.68},{"r":5.4,"g":0.8},{"r":5.6,"g":0.88},{"r":5.8,"g":0.9},{"r":6,"g":0.88},{"r":6.2,"g":0.95},{"r":6.4,"g":1.07},{"r":6.6,"g":1.16},{"r":6.8,"g":1.2},{"r":7,"g":1.22},{"r":7.2,"g":1.22},{"r":7.4,"g":1.18},{"r":7.6,"g":1.1},{"r":7.8,"g":0.98},{"r":8,"g":0.9},{"r":8.2,"g":0.87},{"r":8.4,"g":0.88},{"r":8.6,"g":0.9},{"r":8.8,"g":0.93},{"r":9,"g":0.96},{"r":9.3,"g":0.99},{"r":9.6,"g":1.01},{"r":9.8,"g":1.02},{"r":10,"g":1.03}],
"b2g":[{"r":1,"g":0},{"r":2.15,"g":0},{"r":2.22,"g":0.1},{"r":2.28,"g":0.5},{"r":2.33,"g":0.85},{"r":2.36,"g":0.92},{"r":2.4,"g":0.8},{"r":2.45,"g":0.45},{"r":2.5,"g":0.15},{"r":2.56,"g":0.03},{"r":2.65,"g":0},{"r":2.8,"g":0},{"r":2.95,"g":0.01},{"r":3.05,"g":0.05},{"r":3.15,"g":0.2},{"r":3.25,"g":0.5},{"r":3.35,"g":0.95},{"r":3.45,"g":1.45},{"r":3.55,"g":1.95},{"r":3.65,"g":2.4},{"r":3.75,"g":2.75},{"r":3.85,"g":2.95},{"r":3.92,"g":3},{"r":4,"g":2.85},{"r":4.1,"g":2.45},{"r":4.2,"g":1.9},{"r":4.3,"g":1.4},{"r":4.4,"g":1.05},{"r":4.5,"g":0.9},{"r":4.7,"g":0.8},{"r":4.9,"g":0.72},{"r":5.1,"g":0.66},{"r":5.3,"g":0.64},{"r":5.5,"g":0.66},{"r":5.7,"g":0.7},{"r":5.9,"g":0.76},{"r":6.1,"g":0.95},{"r":6.3,"g":1.12},{"r":6.5,"g":1.22},{"r":6.7,"g":1.28},{"r":6.9,"g":1.29},{"r":7.1,"g":1.25},{"r":7.3,"g":1.18},{"r":7.5,"g":1.1},{"r":7.7,"g":1},{"r":7.9,"g":0.9},{"r":8.1,"g":0.86},{"r":8.3,"g":0.84},{"r":8.5,"g":0.84},{"r":8.7,"g":0.87},{"r":8.9,"g":0.93},{"r":9.1,"g":1.02},{"r":9.3,"g":1.1},{"r":9.5,"g":1.13},{"r":9.7,"g":1.14},{"r":9.85,"g":1.14},{"r":10,"g":1.12}],
"blab":[{"r":8.43,"g":5.7,"t":"GeSe₄"},{"r":8.43,"g":3.73,"t":"GeSe₃"},{"r":8.43,"g":1.73,"t":"GeSe₂"}]
},
"vconcat":[
{"width":540,"height":432,
"resolve":{"axis":{"x":"independent","y":"independent"}},
"layer":[
{"data":{"name":"a4g"},"mark":{"type":"line","color":"#1ec81e","strokeWidth":1.2},"encoding":{"x":{"field":"k","type":"quantitative","scale":{"domain":[0,16],"nice":false,"zero":false},"axis":{"orient":"bottom","values":[0,2,4,6,8,10,12,14,16],"tickSize":-11,"labelPadding":16,"labelFlush":false,"title":"Scattering vector k (Å⁻¹)","titlePadding":2}},"y":{"field":"S","type":"quantitative","scale":{"domain":[-0.5,7.5],"nice":false,"zero":false},"axis":{"orient":"left","values":[0,2,4,6],"tickSize":-11,"labelPadding":15,"labelFlush":false,"title":"Partial structure factor Sₛₑₛₑ(k)","titlePadding":13}}}},
{"data":{"name":"a2g"},"mark":{"type":"line","color":"#1ec81e","strokeWidth":1.2},"encoding":{"x":{"field":"k","type":"quantitative","axis":{"orient":"bottom","values":[1,3,5,7,9,11,13,15],"tickSize":-6,"labels":false,"title":null}},"y":{"field":"S","type":"quantitative","axis":{"orient":"left","values":[1,3,5,7],"tickSize":-6,"labels":false,"title":null}}}},
{"data":{"name":"a4r"},"mark":{"type":"line","color":"#ee1111","strokeWidth":1.2},"encoding":{"x":{"field":"k","type":"quantitative","axis":{"orient":"top","values":[0,2,4,6,8,10,12,14,16],"tickSize":-11,"labels":false,"title":null}},"y":{"field":"S","type":"quantitative","axis":{"orient":"right","values":[0,2,4,6],"tickSize":-11,"labels":false,"title":null}}}},
{"data":{"name":"a3r"},"mark":{"type":"line","color":"#ee1111","strokeWidth":1.2},"encoding":{"x":{"field":"k","type":"quantitative","axis":{"orient":"top","values":[1,3,5,7,9,11,13,15],"tickSize":-6,"labels":false,"title":null}},"y":{"field":"S","type":"quantitative","axis":{"orient":"right","values":[1,3,5,7],"tickSize":-6,"labels":false,"title":null}}}},
{"data":{"name":"a2r"},"mark":{"type":"line","color":"#ee1111","strokeWidth":1.2},"encoding":{"x":{"field":"k","type":"quantitative","axis":null},"y":{"field":"S","type":"quantitative","axis":null}}},
{"data":{"name":"a4b"},"mark":{"type":"line","color":"#1515b0","strokeWidth":1.2,"strokeDash":[6,3]},"encoding":{"x":{"field":"k","type":"quantitative","axis":null},"y":{"field":"S","type":"quantitative","axis":null}}},
{"data":{"name":"a2e"},"mark":{"type":"rule","color":"#333","strokeWidth":1},"encoding":{"x":{"field":"k","type":"quantitative","axis":null},"y":{"field":"lo","type":"quantitative","axis":null},"y2":{"field":"hi"}}},
{"data":{"name":"a4k"},"mark":{"type":"line","color":"#111","strokeWidth":1.5,"interpolate":"monotone"},"encoding":{"x":{"field":"k","type":"quantitative","axis":null},"y":{"field":"S","type":"quantitative","axis":null}}},
{"data":{"name":"a3k"},"mark":{"type":"line","color":"#111","strokeWidth":1.5,"interpolate":"monotone"},"encoding":{"x":{"field":"k","type":"quantitative","axis":null},"y":{"field":"S","type":"quantitative","axis":null}}},
{"data":{"name":"a2k"},"mark":{"type":"line","color":"#111","strokeWidth":1.5,"interpolate":"monotone"},"encoding":{"x":{"field":"k","type":"quantitative","axis":null},"y":{"field":"S","type":"quantitative","axis":null}}},
{"data":{"name":"alab"},"mark":{"type":"text","align":"left","baseline":"middle","font":"Liberation Serif","fontSize":21,"color":"#000"},"encoding":{"x":{"field":"k","type":"quantitative","axis":null},"y":{"field":"S","type":"quantitative","axis":null},"text":{"field":"t"}}},
{"data":{"values":[{"p":"A"}]},"mark":{"type":"text","align":"center","baseline":"middle","font":"Liberation Sans","fontSize":19,"fontWeight":"bold","color":"#000"},"encoding":{"x":{"datum":-0.92,"type":"quantitative","axis":null},"y":{"datum":7.2,"type":"quantitative","axis":null},"text":{"field":"p"}}}
]},
{"width":540,"height":430,
"title":{"text":"The measured vs. simulated (A) Sₛₑₛₑ(k) and (B) gₛₑₛₑ(r)","orient":"bottom","anchor":"start","frame":"group","dx":51,"offset":37,"font":"Liberation Sans","fontSize":18.2,"fontWeight":"normal","color":"#333"},
"resolve":{"axis":{"x":"independent","y":"independent"}},
"layer":[
{"data":{"name":"b4g"},"mark":{"type":"line","color":"#1ec81e","strokeWidth":1.2,"interpolate":"monotone"},"encoding":{"x":{"field":"r","type":"quantitative","scale":{"domain":[1,10],"nice":false,"zero":false},"axis":{"orient":"bottom","values":[1,2,3,4,5,6,7,8,9,10],"tickSize":-11,"labelPadding":16,"labelFlush":false,"title":"Distance r (Å)","titlePadding":9}},"y":{"field":"g","type":"quantitative","scale":{"domain":[-0.5,9],"nice":false,"zero":false},"axis":{"orient":"left","values":[0,2,4,6,8],"tickSize":-11,"labelPadding":15,"labelFlush":false,"title":"Partial pair-distribution function gₛₑₛₑ(r)","titlePadding":13}}}},
{"data":{"name":"b2g"},"mark":{"type":"line","color":"#1ec81e","strokeWidth":1.2,"interpolate":"monotone"},"encoding":{"x":{"field":"r","type":"quantitative","axis":{"orient":"bottom","values":[1.5,2.5,3.5,4.5,5.5,6.5,7.5,8.5,9.5],"tickSize":-6,"labels":false,"title":null}},"y":{"field":"g","type":"quantitative","axis":{"orient":"left","values":[1,3,5,7],"tickSize":-6,"labels":false,"title":null}}}},
{"data":{"name":"b4r"},"mark":{"type":"line","color":"#ee1111","strokeWidth":1.2,"interpolate":"monotone"},"encoding":{"x":{"field":"r","type":"quantitative","axis":{"orient":"top","values":[1,2,3,4,5,6,7,8,9,10],"tickSize":-11,"labels":false,"title":null}},"y":{"field":"g","type":"quantitative","axis":{"orient":"right","values":[0,2,4,6,8],"tickSize":-11,"labels":false,"title":null}}}},
{"data":{"name":"b3r"},"mark":{"type":"line","color":"#ee1111","strokeWidth":1.2,"interpolate":"monotone"},"encoding":{"x":{"field":"r","type":"quantitative","axis":{"orient":"top","values":[1.5,2.5,3.5,4.5,5.5,6.5,7.5,8.5,9.5],"tickSize":-6,"labels":false,"title":null}},"y":{"field":"g","type":"quantitative","axis":{"orient":"right","values":[1,3,5,7],"tickSize":-6,"labels":false,"title":null}}}},
{"data":{"name":"b2r"},"mark":{"type":"line","color":"#ee1111","strokeWidth":1.2,"interpolate":"monotone"},"encoding":{"x":{"field":"r","type":"quantitative","axis":null},"y":{"field":"g","type":"quantitative","axis":null}}},
{"data":{"name":"b4b"},"mark":{"type":"line","color":"#1515b0","strokeWidth":1.2,"strokeDash":[6,3],"interpolate":"monotone"},"encoding":{"x":{"field":"r","type":"quantitative","axis":null},"y":{"field":"g","type":"quantitative","axis":null}}},
{"data":{"name":"b4k"},"mark":{"type":"line","color":"#111","strokeWidth":1.5,"interpolate":"monotone"},"encoding":{"x":{"field":"r","type":"quantitative","axis":null},"y":{"field":"g","type":"quantitative","axis":null}}},
{"data":{"name":"b3k"},"mark":{"type":"line","color":"#111","strokeWidth":1.5,"interpolate":"monotone"},"encoding":{"x":{"field":"r","type":"quantitative","axis":null},"y":{"field":"g","type":"quantitative","axis":null}}},
{"data":{"name":"b2k"},"mark":{"type":"line","color":"#111","strokeWidth":1.5,"interpolate":"monotone"},"encoding":{"x":{"field":"r","type":"quantitative","axis":null},"y":{"field":"g","type":"quantitative","axis":null}}},
{"data":{"name":"blab"},"mark":{"type":"text","align":"left","baseline":"middle","font":"Liberation Serif","fontSize":21,"color":"#000"},"encoding":{"x":{"field":"r","type":"quantitative","axis":null},"y":{"field":"g","type":"quantitative","axis":null},"text":{"field":"t"}}},
{"data":{"values":[{"p":"B"}]},"mark":{"type":"text","align":"center","baseline":"middle","font":"Liberation Sans","fontSize":19,"fontWeight":"bold","color":"#000"},"encoding":{"x":{"datum":0.48,"type":"quantitative","axis":null},"y":{"datum":8.98,"type":"quantitative","axis":null},"text":{"field":"p"}}}
]}
],
"config":{
"view":{"stroke":"#333","strokeWidth":1.3},
"axis":{"domain":false,"grid":false,"tickColor":"#333","tickWidth":1.2,"labelColor":"#000","titleColor":"#000","labelFont":"Liberation Serif","titleFont":"Liberation Serif","labelFontSize":20,"titleFontSize":21,"titleFontWeight":"normal","labelOverlap":false}
}
}
